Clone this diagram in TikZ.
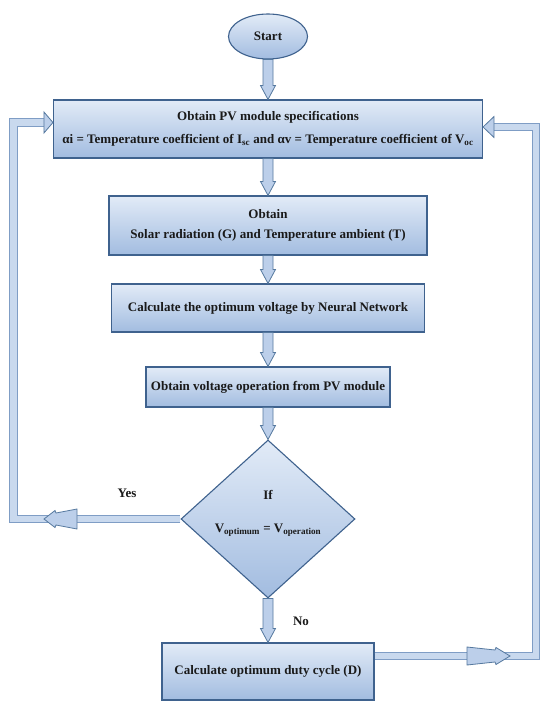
\documentclass[tikz,border=0pt]{standalone}
\usepackage{fontspec}
\setmainfont{Liberation Serif}
\usetikzlibrary{shapes.geometric,calc}
\definecolor{boxtop}{HTML}{E2EBF7}
\definecolor{boxbot}{HTML}{A2BCE0}
\definecolor{boxedge}{HTML}{3F628E}
\definecolor{arrfill}{HTML}{BCCFEA}
\definecolor{arredge}{HTML}{56799F}
\definecolor{barfill}{HTML}{C9D9EE}
\definecolor{baredge}{HTML}{7F9DC5}
\definecolor{txt}{HTML}{1A1A1A}
\newcommand\vblk[2]{\filldraw[arrowblk] ($(#1)+(-5,0)$) -- ($(#2)+(-5,-14)$) -- ($(#2)+(-7.5,-14)$) -- (#2) -- ($(#2)+(7.5,-14)$) -- ($(#2)+(5,-14)$) -- ($(#1)+(5,0)$) -- cycle;}
\begin{document}
\begin{tikzpicture}[x=1pt,y=-1pt,
  box/.style={draw=boxedge, line width=1.1pt, top color=boxtop, bottom color=boxbot,
    font=\bfseries\fontsize{13}{15}\selectfont, align=center, inner sep=0pt, text=txt},
  startnode/.style={box, ellipse},
  dia/.style={box, diamond},
  arrowblk/.style={draw=arredge, fill=arrfill, line width=0.8pt, line join=miter},
  bar/.style={draw=baredge, line width=0.8pt, double=barfill, double distance=6.5pt, line join=miter},
  lbl/.style={font=\bfseries\fontsize{13}{15}\selectfont, text=txt, inner sep=1pt}]
\useasboundingbox (0,0) rectangle (540,704);
\fill[white] (0,0) rectangle (540,704);
% nodes
\node[startnode, minimum width=79pt, minimum height=45pt] (s) at (268,36.5) {Start};
\node[box, minimum width=429pt, minimum height=58pt] (b1) at (268,129)
  {Obtain PV module specifications\\[8pt]αi = Temperature coefficient of I\textsubscript{sc} and αv = Temperature coefficient of V\textsubscript{oc}};
\node[box, minimum width=318pt, minimum height=59pt] (b2) at (268,225.5)
  {Obtain\\[5pt]Solar radiation (G) and Temperature ambient (T)};
\node[box, minimum width=313pt, minimum height=48pt] (b3) at (268,308)
  {Calculate the optimum voltage by Neural Network};
\node[box, minimum width=244pt, minimum height=40pt] (b4) at (268,387)
  {Obtain voltage operation from PV module};
\node[dia, minimum width=174pt, minimum height=158pt] (d) at (268,519) {};
\node[lbl] (dif) at ($(d.center)+(0,-24)$) {If};
\node[lbl] (dv) at ($(d.center)+(0,11)$) {V\textsubscript{optimum} = V\textsubscript{operation}};
\node[box, minimum width=212pt, minimum height=57pt] (b5) at (268,671.5)
  {Calculate optimum duty cycle (D)};
\node[lbl] (yes) at (127,493) {Yes};
\node[lbl] (no) at (301,621) {No};
% vertical block arrows
\vblk{s.south}{b1.north}
\vblk{b1.south}{b2.north}
\vblk{b2.south}{b3.north}
\vblk{b3.south}{b4.north}
\vblk{b4.south}{d.north}
\vblk{d.south}{b5.north}
% feedback loops
\coordinate (L1) at (13.5,519);
\coordinate (L2) at (13.5,122.5);
\coordinate (R1) at (536,656);
\coordinate (R2) at (536,127);
\draw[bar] (d.west) -- (L1) -- (L2) -- ($(b1.west |- L2)+(-8,0)$);
\draw[bar] (b5.east |- R1) -- (R1) -- (R2) -- ($(b1.east |- R2)+(10,0)$);
% entry heads
\coordinate (TL) at (b1.west |- L2);
\coordinate (TR) at (b1.east |- R2);
\filldraw[arrowblk] ($(TL)+(-9,-10.5)$) -- (TL) -- ($(TL)+(-9,10.5)$) -- cycle;
\filldraw[arrowblk] ($(TR)+(11,-10.5)$) -- (TR) -- ($(TR)+(11,10.5)$) -- cycle;
% mid heads
\coordinate (RH) at (510,656);
\coordinate (LH) at (44,519);
\filldraw[arrowblk] ($(RH)+(-43,-9)$) -- ($(RH)+(-15,-6)$) -- ($(RH)+(-14,-8.5)$) -- (RH) -- ($(RH)+(-14,8.5)$) -- ($(RH)+(-15,6)$) -- ($(RH)+(-43,9)$) -- cycle;
\filldraw[arrowblk] ($(LH)+(33,-10)$) -- ($(LH)+(12,-6)$) -- ($(LH)+(11,-8.5)$) -- (LH) -- ($(LH)+(11,8.5)$) -- ($(LH)+(12,6)$) -- ($(LH)+(33,10)$) -- cycle;
\end{tikzpicture}
\end{document}
